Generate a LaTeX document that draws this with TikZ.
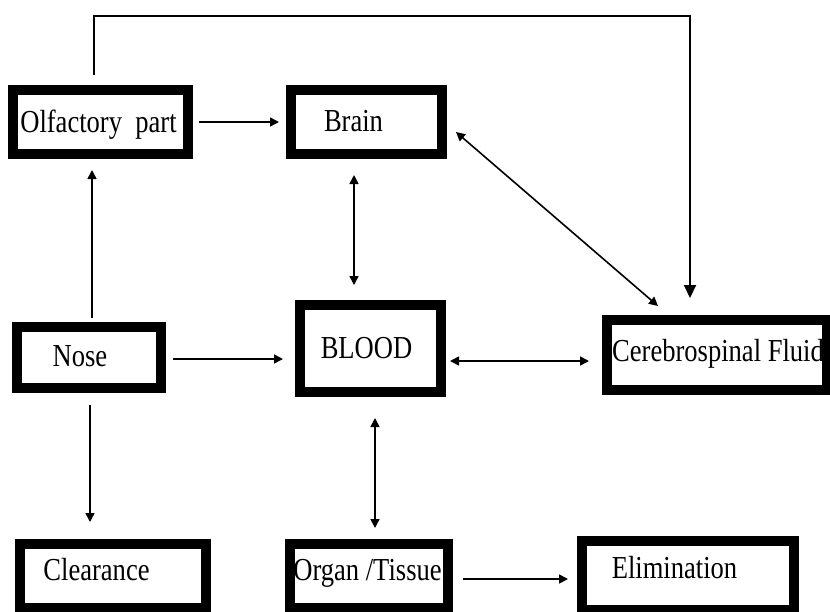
\documentclass[tikz,border=0pt]{standalone}
\usepackage{fontspec}
\setmainfont{Liberation Serif}[FakeStretch=0.83]
\usetikzlibrary{arrows.meta}

\begin{document}
\begin{tikzpicture}[x=1pt,y=1pt]
	\tikzstyle{boite}=[rectangle,draw,line width=10pt,inner sep=0pt]
	\tikzstyle{txt}=[font=\fontsize{32}{32}\selectfont,text height=21pt,text depth=0pt,inner sep=0pt]
	\tikzstyle{fl}=[line width=1.6pt,-{Triangle[length=9pt,width=9pt]}]
	\tikzstyle{dfl}=[line width=1.6pt,{Triangle[length=9pt,width=9pt]}-{Triangle[length=9pt,width=9pt]}]
	\clip (0,0) rectangle (830,-611);
	\node[boite,minimum width=175pt,minimum height=64pt,label={[txt,xshift=-2pt]center:Olfactory~~part}] (olf) at (100.5,-122){};
	\node[boite,minimum width=151pt,minimum height=64pt,label={[txt,xshift=-13pt,yshift=1pt]center:Brain}] (brain) at (366.5,-122){};
	\node[boite,minimum width=144pt,minimum height=61pt,label={[txt,xshift=-9pt,yshift=1.5pt]center:Nose}] (nose) at (89,-357.5){};
	\node[boite,minimum width=141pt,minimum height=87pt,label={[txt,xshift=-4pt,yshift=1pt]center:BLOOD}] (blood) at (370.5,-348.5){};
	\node[boite,minimum width=220pt,minimum height=70pt,label={[txt,xshift=1pt,yshift=4pt]center:Cerebrospinal Fluid}] (csf) at (717,-355){};
	\node[boite,minimum width=186pt,minimum height=64pt,label={[txt,xshift=-16.5pt,yshift=6pt]center:Clearance}] (clear) at (113,-576){};
	\node[boite,minimum width=158pt,minimum height=64pt,label={[txt,xshift=-1.5pt,yshift=6pt]center:Organ /Tissue}] (organ) at (369,-576){};
	\node[boite,minimum width=212pt,minimum height=69pt,label={[txt,xshift=-13.5pt,yshift=8pt]center:Elimination}] (elim) at (688,-575.5){};
	\coordinate (haut) at (400,-16);
	\draw[fl,shorten <=6pt,shorten >=7pt] (olf) -- (brain);
	\draw[fl,shorten <=4pt,shorten >=11pt] ([xshift=3pt]nose.north) -- ([xshift=-8.5pt]olf.south);
	\draw[fl,shorten <=12pt,shorten >=17pt] ([xshift=1pt]nose.south) -- ([xshift=-23pt]clear.north);
	\draw[fl,shorten <=7pt,shorten >=12pt] ([yshift=-1.5pt]nose.east) -- ([yshift=-10.5pt]blood.west);
	\draw[dfl,shorten <=4pt,shorten >=13pt] ([yshift=-12.5pt]blood.east) -- ([yshift=-6pt]csf.west);
	\draw[dfl,shorten <=16pt,shorten >=15pt] ([xshift=-12.5pt]brain.south) -- ([xshift=-16.5pt]blood.north);
	\draw[dfl,shorten <=21pt,shorten >=11pt] ([xshift=4.5pt]blood.south) -- ([xshift=6pt]organ.north);
	\draw[fl,shorten <=10pt,shorten >=9pt] ([yshift=-3pt]organ.east) -- ([yshift=-3.5pt]elim.west);
	\draw[dfl] ([shift={(9pt,-10pt)}]brain.east) -- ([shift={(-59pt,9pt)}]csf.north);
	\draw[fl,line width=2pt,-{Triangle[length=13pt,width=12pt]},shorten <=10pt,shorten >=17pt] ([xshift=-6.5pt]olf.north) |- (haut) -| ([xshift=-27pt]csf.north);
\end{tikzpicture}
\end{document}
